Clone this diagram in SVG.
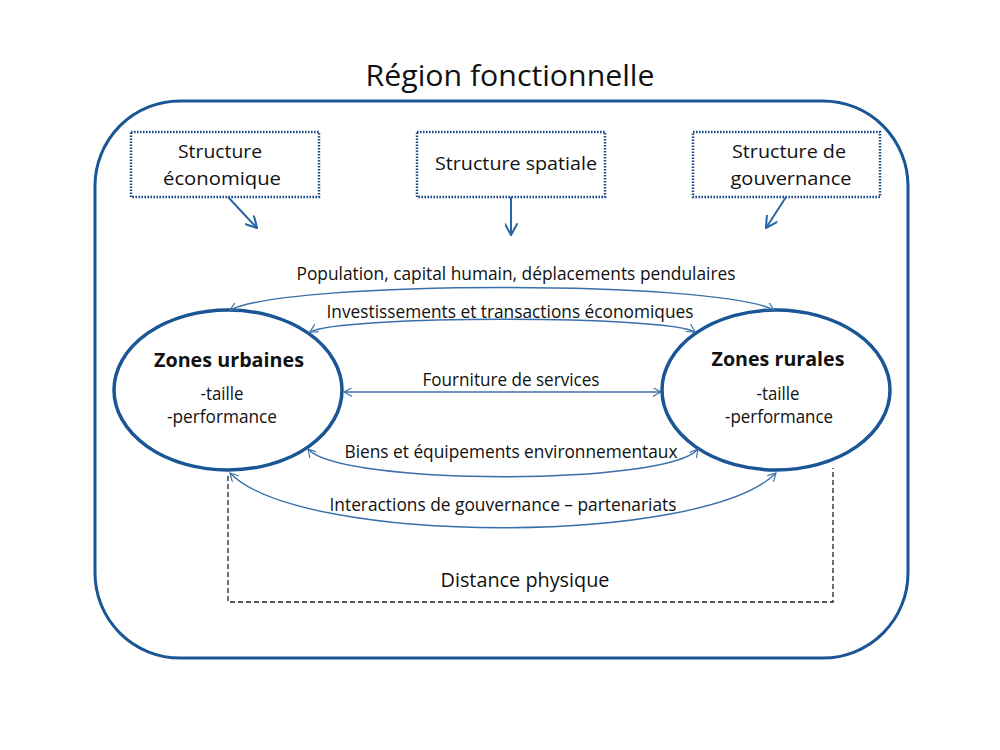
<svg xmlns="http://www.w3.org/2000/svg" width="1000" height="750" viewBox="0 0 1000 750">
<defs>
<style>
text{font-family:"Open Sans","Noto Sans","Liberation Sans",sans-serif;fill:#111;text-anchor:middle}
.t{font-size:18px}
.b{font-size:20px;font-weight:bold}
.box{fill:#fff;stroke:#1d4a86;stroke-width:2.5;stroke-dasharray:1.6 1.4}
.ell{fill:#fff;stroke:#1a5595;stroke-width:3.5}
.c{fill:none;stroke:#3a70aa;stroke-width:1.4}
.a{fill:none;stroke:#2a66a5;stroke-width:2}
</style>
<marker id="m" viewBox="0 0 10 10" refX="9" refY="5" markerWidth="9" markerHeight="9" markerUnits="userSpaceOnUse" orient="auto-start-reverse">
<path d="M0,0 L9,5 L0,10" fill="none" stroke="#3a70aa" stroke-width="1.3"/>
</marker>
<marker id="m2" viewBox="0 0 10 10" refX="9" refY="5" markerWidth="13" markerHeight="13" markerUnits="userSpaceOnUse" orient="auto">
<path d="M0,0 L9,5 L0,10" fill="none" stroke="#2a66a5" stroke-width="1.6"/>
</marker>
</defs>
<rect width="1000" height="750" fill="#fff"/>
<text x="510" y="86" style="font-size:30px" textLength="289" lengthAdjust="spacingAndGlyphs">Région fonctionnelle</text>
<rect id="region" x="95" y="101" width="813" height="557" rx="85" ry="85" fill="none" stroke="#1a5595" stroke-width="3"/>

<g id="structure-economique">
<rect class="box" x="131" y="132" width="188" height="65"/>
<text class="t" x="220" y="158" textLength="84" lengthAdjust="spacingAndGlyphs">Structure</text>
<text class="t" x="222" y="185" textLength="118" lengthAdjust="spacingAndGlyphs">économique</text>
</g>
<g id="structure-spatiale">
<rect class="box" x="417" y="132" width="188" height="65"/>
<text class="t" x="516" y="170" textLength="162" lengthAdjust="spacingAndGlyphs">Structure spatiale</text>
</g>
<g id="structure-gouvernance">
<rect class="box" x="693" y="132" width="187" height="65"/>
<text class="t" x="789" y="158" textLength="114" lengthAdjust="spacingAndGlyphs">Structure de</text>
<text class="t" x="791" y="185" textLength="121" lengthAdjust="spacingAndGlyphs">gouvernance</text>
</g>

<g id="zones-urbaines">
<ellipse class="ell" cx="228" cy="390" rx="114" ry="80"/>
<text class="b" x="229" y="367" textLength="150" lengthAdjust="spacingAndGlyphs">Zones urbaines</text>
<text class="t" x="222" y="400" textLength="43" lengthAdjust="spacingAndGlyphs">-taille</text>
<text class="t" x="222" y="423" textLength="110" lengthAdjust="spacingAndGlyphs">-performance</text>
</g>
<g id="zones-rurales">
<ellipse class="ell" cx="776" cy="390" rx="114" ry="80"/>
<text class="b" x="778" y="366" textLength="133" lengthAdjust="spacingAndGlyphs">Zones rurales</text>
<text class="t" x="778" y="400" textLength="43" lengthAdjust="spacingAndGlyphs">-taille</text>
<text class="t" x="779" y="423" textLength="108" lengthAdjust="spacingAndGlyphs">-performance</text>
</g>

<g id="connectors">
<line class="a" x1="228" y1="197" x2="257" y2="228" marker-end="url(#m2)"/>
<line class="a" x1="511" y1="197" x2="511" y2="235" marker-end="url(#m2)"/>
<line class="a" x1="786" y1="197" x2="766" y2="228" marker-end="url(#m2)"/>

<path class="c" d="M230,310 C290,280 716,280 774,310" marker-start="url(#m)" marker-end="url(#m)"/>
<path class="c" d="M310,332 C340,315 668,315 695,332" marker-start="url(#m)" marker-end="url(#m)"/>
<line class="c" x1="344" y1="392" x2="661" y2="392" marker-start="url(#m)" marker-end="url(#m)"/>
<path class="c" d="M308,449 C340,486 668,486 698,449" marker-start="url(#m)" marker-end="url(#m)"/>
<path class="c" d="M230,473 C300,546 704,546 776,473" marker-start="url(#m)" marker-end="url(#m)"/>

<path d="M228,476 V602 H833 V468" fill="none" stroke="#222" stroke-width="1.3" stroke-dasharray="5 3"/>
</g>

<g id="labels">
<text class="t" x="516" y="280" textLength="439" lengthAdjust="spacingAndGlyphs">Population, capital humain, déplacements pendulaires</text>
<text class="t" x="510" y="318" textLength="367" lengthAdjust="spacingAndGlyphs">Investissements et transactions économiques</text>
<text class="t" x="511" y="386" textLength="177" lengthAdjust="spacingAndGlyphs">Fourniture de services</text>
<text class="t" x="511" y="458" textLength="333" lengthAdjust="spacingAndGlyphs">Biens et équipements environnementaux</text>
<text class="t" x="503" y="511" textLength="347" lengthAdjust="spacingAndGlyphs">Interactions de gouvernance – partenariats</text>
<text x="525" y="587" style="font-size:20px" textLength="169" lengthAdjust="spacingAndGlyphs">Distance physique</text>
</g>
</svg>
